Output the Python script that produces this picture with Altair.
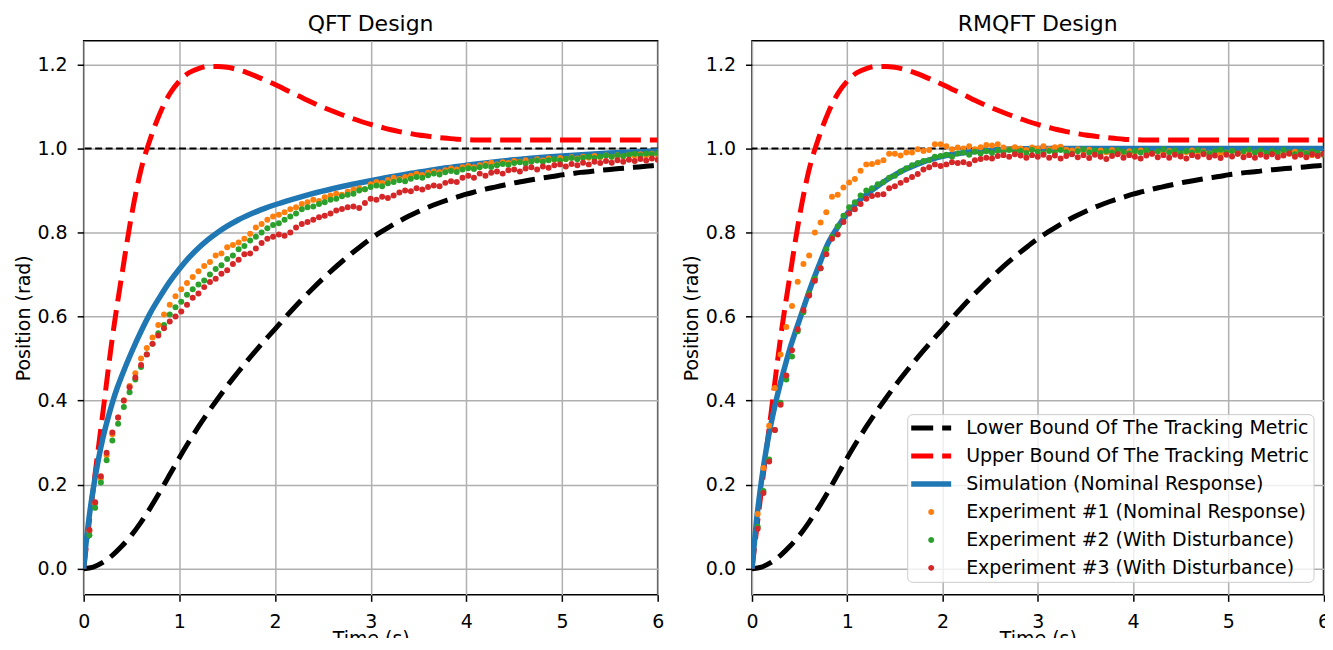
import altair as alt
import pandas as pd

# ---------------- data ----------------
series_names = [
    "Lower Bound Of The Tracking Metric",
    "Upper Bound Of The Tracking Metric",
    "Simulation (Nominal Response)",
    "Experiment #1 (Nominal Response)",
    "Experiment #2 (With Disturbance)",
    "Experiment #3 (With Disturbance)",
]
series_colors = ["#000000", "#ff0000", "#1f77b4", "#ff7f0e", "#2ca02c", "#d62728"]

x_ticks = [0, 1, 2, 3, 4, 5, 6]
y_ticks = [0.0, 0.2, 0.4, 0.6, 0.8, 1.0, 1.2]
setpoint = [1.0]

t_bound = [0.0, 0.1, 0.2, 0.3, 0.4, 0.5, 0.6, 0.7, 0.8, 0.9,
           1.0, 1.1, 1.2, 1.3, 1.4, 1.5, 1.6, 1.7, 1.8, 1.9,
           2.0, 2.1, 2.2, 2.3, 2.4, 2.5, 2.6, 2.7, 2.8, 2.9,
           3.0, 3.1, 3.2, 3.3, 3.4, 3.5, 3.6, 3.7, 3.8, 3.9,
           4.0, 4.1, 4.2, 4.3, 4.4, 4.5, 4.6, 4.7, 4.8, 4.9,
           5.0, 5.1, 5.2, 5.3, 5.4, 5.5, 5.6, 5.7, 5.8, 5.9, 6.0]
lower_bound = [0.000, 0.004, 0.015, 0.032, 0.054, 0.080, 0.111, 0.146, 0.184, 0.224,
               0.264, 0.302, 0.338, 0.372, 0.404, 0.435, 0.464, 0.492, 0.519, 0.545,
               0.570, 0.596, 0.621, 0.645, 0.668, 0.690, 0.711, 0.731, 0.750, 0.768,
               0.785, 0.800, 0.814, 0.827, 0.839, 0.850, 0.860, 0.869, 0.877, 0.884,
               0.891, 0.897, 0.903, 0.908, 0.913, 0.918, 0.922, 0.926, 0.930, 0.933,
               0.937, 0.940, 0.943, 0.945, 0.948, 0.950, 0.952, 0.954, 0.956, 0.958, 0.960]
upper_bound = [0.000, 0.190, 0.370, 0.550, 0.700, 0.840, 0.950, 1.025, 1.085, 1.130,
               1.160, 1.180, 1.190, 1.195, 1.195, 1.193, 1.188, 1.181, 1.172, 1.162,
               1.152, 1.141, 1.130, 1.119, 1.108, 1.098, 1.089, 1.080, 1.072, 1.064,
               1.057, 1.051, 1.045, 1.040, 1.036, 1.032, 1.029, 1.026, 1.024, 1.022,
               1.021, 1.020, 1.020, 1.020, 1.020, 1.020, 1.020, 1.020, 1.020, 1.020,
               1.020, 1.020, 1.020, 1.020, 1.020, 1.020, 1.020, 1.020, 1.020, 1.020, 1.020]

t_sim_qft = [0.0, 0.02, 0.05, 0.1, 0.15, 0.2, 0.25, 0.3, 0.35, 0.4, 0.5, 0.6, 0.7, 0.8, 0.9,
             1.0, 1.1, 1.2, 1.3, 1.4, 1.5, 1.6, 1.7, 1.8, 1.9, 2.0, 2.2, 2.4, 2.6, 2.8,
             3.0, 3.2, 3.4, 3.6, 3.8, 4.0, 4.5, 5.0, 5.5, 6.0]
sim_qft = [0.0, 0.05, 0.11, 0.19, 0.255, 0.31, 0.355, 0.395, 0.43, 0.46, 0.515, 0.565, 0.61, 0.648, 0.683,
           0.713, 0.74, 0.763, 0.783, 0.80, 0.815, 0.828, 0.839, 0.849, 0.858, 0.866, 0.88, 0.893, 0.904, 0.914,
           0.923, 0.932, 0.94, 0.947, 0.954, 0.96, 0.973, 0.982, 0.989, 0.994]

t_sim_rm = [0.0, 0.02, 0.05, 0.1, 0.15, 0.2, 0.25, 0.3, 0.35, 0.4, 0.45, 0.5, 0.6, 0.7, 0.8, 0.9,
            1.0, 1.1, 1.2, 1.3, 1.4, 1.5, 1.6, 1.7, 1.8, 1.9, 2.0, 2.2, 2.4, 2.6, 2.8,
            3.0, 3.5, 4.0, 4.5, 5.0, 5.5, 6.0]
sim_rm = [0.0, 0.05, 0.12, 0.21, 0.285, 0.345, 0.397, 0.443, 0.485, 0.525, 0.56, 0.593, 0.66, 0.72, 0.775, 0.813,
          0.845, 0.87, 0.89, 0.907, 0.923, 0.937, 0.949, 0.959, 0.968, 0.975, 0.981, 0.989, 0.994, 0.997, 0.999,
          1.0, 1.0, 1.0, 1.0, 1.0, 1.0, 1.0]

t_exp = [0.06, 0.12, 0.18, 0.24, 0.30, 0.36, 0.42, 0.48, 0.54, 0.60,
         0.66, 0.72, 0.78, 0.84, 0.90, 0.96, 1.02, 1.08, 1.14, 1.20,
         1.26, 1.32, 1.38, 1.44, 1.50, 1.56, 1.62, 1.68, 1.74, 1.80,
         1.86, 1.92, 1.98, 2.04, 2.10, 2.16, 2.22, 2.28, 2.34, 2.40,
         2.46, 2.52, 2.58, 2.64, 2.70, 2.76, 2.82, 2.88, 2.94, 3.00,
         3.06, 3.12, 3.18, 3.24, 3.30, 3.36, 3.42, 3.48, 3.54, 3.60,
         3.66, 3.72, 3.78, 3.84, 3.90, 3.96, 4.02, 4.08, 4.14, 4.20,
         4.26, 4.32, 4.38, 4.44, 4.50, 4.56, 4.62, 4.68, 4.74, 4.80,
         4.86, 4.92, 4.98, 5.04, 5.10, 5.16, 5.22, 5.28, 5.34, 5.40,
         5.46, 5.52, 5.58, 5.64, 5.70, 5.76, 5.82, 5.88, 5.94, 6.00]

qft_exp1 = [0.090, 0.155, 0.215, 0.270, 0.320, 0.360, 0.400, 0.435, 0.465, 0.500,
            0.525, 0.550, 0.580, 0.605, 0.628, 0.648, 0.665, 0.680, 0.694, 0.708,
            0.720, 0.730, 0.745, 0.750, 0.765, 0.770, 0.776, 0.785, 0.797, 0.812,
            0.820, 0.830, 0.838, 0.842, 0.848, 0.855, 0.860, 0.868, 0.872, 0.878,
            0.875, 0.884, 0.888, 0.892, 0.890, 0.897, 0.902, 0.905, 0.903, 0.915,
            0.920, 0.918, 0.925, 0.930, 0.927, 0.932, 0.935, 0.940, 0.937, 0.942,
            0.945, 0.943, 0.948, 0.952, 0.950, 0.955, 0.958, 0.955, 0.960, 0.963,
            0.966, 0.962, 0.967, 0.965, 0.970, 0.968, 0.972, 0.969, 0.974, 0.971,
            0.976, 0.973, 0.977, 0.975, 0.979, 0.976, 0.980, 0.978, 0.982, 0.979,
            0.983, 0.980, 0.984, 0.981, 0.985, 0.982, 0.986, 0.983, 0.987, 0.985]
qft_exp2 = [0.080, 0.145, 0.205, 0.258, 0.305, 0.345, 0.385, 0.420, 0.450, 0.480,
            0.510, 0.535, 0.560, 0.580, 0.605, 0.622, 0.635, 0.652, 0.665, 0.676,
            0.686, 0.700, 0.713, 0.722, 0.737, 0.745, 0.760, 0.768, 0.781, 0.790,
            0.800, 0.810, 0.818, 0.822, 0.830, 0.838, 0.845, 0.855, 0.860, 0.862,
            0.868, 0.872, 0.878, 0.880, 0.886, 0.890, 0.892, 0.900, 0.903, 0.908,
            0.912, 0.910, 0.917, 0.920, 0.924, 0.922, 0.928, 0.932, 0.930, 0.936,
            0.940, 0.938, 0.943, 0.946, 0.944, 0.950, 0.953, 0.951, 0.955, 0.958,
            0.956, 0.960, 0.963, 0.961, 0.965, 0.967, 0.964, 0.969, 0.971, 0.968,
            0.972, 0.974, 0.971, 0.975, 0.977, 0.974, 0.978, 0.980, 0.977, 0.981,
            0.983, 0.980, 0.984, 0.982, 0.985, 0.987, 0.984, 0.988, 0.986, 0.989]
qft_exp3 = [0.092, 0.158, 0.220, 0.276, 0.324, 0.360, 0.400, 0.432, 0.455, 0.485,
            0.510, 0.535, 0.555, 0.572, 0.588, 0.600, 0.612, 0.628, 0.645, 0.655,
            0.670, 0.682, 0.690, 0.702, 0.710, 0.725, 0.735, 0.748, 0.750, 0.762,
            0.775, 0.785, 0.790, 0.795, 0.792, 0.800, 0.812, 0.820, 0.825, 0.830,
            0.836, 0.840, 0.845, 0.852, 0.856, 0.860, 0.862, 0.858, 0.870, 0.880,
            0.878, 0.885, 0.882, 0.888, 0.895, 0.900, 0.898, 0.905, 0.902, 0.908,
            0.912, 0.910, 0.918, 0.922, 0.920, 0.930, 0.935, 0.930, 0.940, 0.935,
            0.942, 0.945, 0.940, 0.948, 0.950, 0.945, 0.952, 0.955, 0.950, 0.957,
            0.954, 0.960, 0.962, 0.957, 0.963, 0.960, 0.966, 0.962, 0.968, 0.965,
            0.970, 0.966, 0.972, 0.968, 0.973, 0.970, 0.975, 0.971, 0.976, 0.973]

rm_exp1 = [0.130, 0.240, 0.340, 0.430, 0.510, 0.575, 0.625, 0.683, 0.725, 0.745,
           0.800, 0.824, 0.848, 0.885, 0.890, 0.907, 0.919, 0.927, 0.947, 0.962,
           0.963, 0.967, 0.972, 0.987, 0.987, 0.983, 0.990, 0.990, 0.998, 0.994,
           0.996, 1.010, 1.010, 1.005, 0.998, 1.002, 1.000, 1.005, 0.998, 1.003,
           1.008, 1.007, 1.010, 1.002, 0.998, 1.003, 1.000, 0.996, 1.002, 1.000,
           1.005, 0.998, 1.003, 1.004, 0.997, 0.995, 0.998, 0.993, 0.997, 0.992,
           0.995, 0.990, 0.996, 0.992, 0.988, 0.993, 0.990, 0.995, 0.990, 0.987,
           0.992, 0.988, 0.994, 0.990, 0.986, 0.991, 0.995, 0.989, 0.993, 0.988,
           0.992, 0.987, 0.990, 0.994, 0.988, 0.991, 0.986, 0.990, 0.993, 0.988,
           0.991, 0.985, 0.990, 0.987, 0.992, 0.986, 0.989, 0.984, 0.988, 0.985]
rm_exp2 = [0.100, 0.185, 0.260, 0.330, 0.395, 0.450, 0.505, 0.565, 0.610, 0.655,
           0.690, 0.715, 0.760, 0.790, 0.815, 0.840, 0.860, 0.872, 0.888, 0.900,
           0.905, 0.915, 0.920, 0.930, 0.935, 0.945, 0.953, 0.960, 0.965, 0.970,
           0.972, 0.980, 0.982, 0.985, 0.980, 0.988, 0.990, 0.985, 0.992, 0.988,
           0.993, 0.989, 0.995, 0.990, 0.996, 0.991, 0.994, 0.989, 0.996, 0.992,
           0.988, 0.994, 0.990, 0.996, 0.991, 0.987, 0.993, 0.998, 0.990, 0.995,
           0.989, 0.994, 0.990, 0.996, 0.992, 0.988, 0.994, 0.990, 0.995, 0.989,
           0.993, 0.998, 0.991, 0.995, 0.989, 0.994, 0.990, 0.996, 0.991, 0.987,
           0.993, 0.997, 0.990, 0.994, 0.988, 0.993, 0.997, 0.990, 0.995, 0.989,
           0.994, 0.990, 0.996, 0.991, 0.986, 0.992, 0.988, 0.993, 0.989, 0.985]
rm_exp3 = [0.095, 0.180, 0.255, 0.330, 0.390, 0.460, 0.520, 0.570, 0.615, 0.650,
           0.685, 0.715, 0.748, 0.785, 0.795, 0.825, 0.845, 0.855, 0.868, 0.880,
           0.887, 0.890, 0.891, 0.905, 0.910, 0.918, 0.925, 0.932, 0.939, 0.950,
           0.955, 0.962, 0.958, 0.962, 0.967, 0.965, 0.967, 0.963, 0.972, 0.975,
           0.978, 0.976, 0.982, 0.984, 0.980, 0.986, 0.983, 0.978, 0.984, 0.980,
           0.985, 0.978, 0.983, 0.976, 0.982, 0.986, 0.979, 0.984, 0.977, 0.985,
           0.980, 0.975, 0.982, 0.986, 0.978, 0.984, 0.980, 0.976, 0.983, 0.987,
           0.979, 0.984, 0.978, 0.985, 0.981, 0.976, 0.984, 0.980, 0.986, 0.979,
           0.983, 0.977, 0.985, 0.981, 0.987, 0.979, 0.984, 0.978, 0.985, 0.980,
           0.986, 0.979, 0.983, 0.988, 0.980, 0.985, 0.979, 0.986, 0.982, 0.987]

# legend handle glyphs (SVG paths, symbol radius units): dashed line, solid line, dot
dash_path = "M-1,-0.25H1.2V0.25H-1Z M2.1,-0.25H3V0.25H2.1Z"
solid_path = "M-1,-0.27H3V0.27H-1Z"
dot_path = "M0.7,0A0.3,0.3,0,1,0,1.3,0A0.3,0.3,0,1,0,0.7,0Z"
series_shapes = [dash_path, dash_path, solid_path, dot_path, dot_path, dot_path]

FONT = "DejaVu Sans"

# ---------------- chart ----------------
xscale = alt.Scale(domain=[0, 6], nice=False, zero=False)
yscale = alt.Scale(domain=[-0.062, 1.256], nice=False, zero=False)

common_axis = dict(
    labelFlush=False, labelOverlap=False, tickSize=6.5, tickWidth=1.5, tickColor="black",
    grid=True, gridColor="#b0b0b0", gridWidth=1.5, domain=False,
    labelFont=FONT, labelFontSize=19, labelColor="black",
    titleFont=FONT, titleFontSize=19, titleFontWeight="normal", titleColor="black",
)
xaxis = alt.Axis(values=x_ticks, format="d", title="Time (s)", labelPadding=11, titlePadding=-2, **common_axis)
yaxis = alt.Axis(values=y_ticks, format=".1f", title="Position (rad)", labelPadding=10, titlePadding=4,
                 **common_axis)


def X():
    return alt.X("t:Q", scale=xscale, axis=xaxis)


def Y():
    return alt.Y("v:Q", scale=yscale, axis=yaxis)


def panel(title, width, t_sim, sim, e1, e2, e3, with_legend):
    ref = alt.Chart(pd.DataFrame({"v": setpoint})).mark_rule(
        color="black", strokeWidth=2, strokeDash=[7, 3.5]
    ).encode(y=Y())
    lower = alt.Chart(pd.DataFrame({"t": t_bound, "v": lower_bound})).mark_line(
        color=series_colors[0], strokeWidth=5, strokeDash=[21, 9], interpolate="monotone", clip=True
    ).encode(x=X(), y=Y())
    upper = alt.Chart(pd.DataFrame({"t": t_bound, "v": upper_bound})).mark_line(
        color=series_colors[1], strokeWidth=5, strokeDash=[21, 9], interpolate="monotone", clip=True
    ).encode(x=X(), y=Y())
    simu = alt.Chart(pd.DataFrame({"t": t_sim, "v": sim})).mark_line(
        color=series_colors[2], strokeWidth=5.5, interpolate="monotone", clip=True
    ).encode(x=X(), y=Y())
    layers = [ref, lower, upper, simu]
    for vals, col in zip([e1, e2, e3], series_colors[3:]):
        layers.append(
            alt.Chart(pd.DataFrame({"t": t_exp, "v": vals})).mark_circle(
                color=col, size=36, opacity=1, clip=True
            ).encode(x=X(), y=Y())
        )
    if with_legend:
        leg = alt.Legend(
            title=None, orient="none", legendX=155.5, legendY=374, direction="vertical",
            labelFont=FONT, labelFontSize=19, labelColor="black", labelLimit=800, labelOffset=35,
            symbolSize=400, symbolStrokeWidth=0, symbolOpacity=1, padding=4, rowPadding=8,
            fillColor="rgba(255,255,255,0.8)", strokeColor="#cccccc", cornerRadius=5,
        )
        legend_layer = alt.Chart(pd.DataFrame({"series": series_names})).mark_point(
            filled=True, opacity=0, size=400
        ).encode(
            color=alt.Color("series:N", sort=series_names,
                            scale=alt.Scale(domain=series_names, range=series_colors), legend=leg),
            shape=alt.Shape("series:N", sort=series_names,
                            scale=alt.Scale(domain=series_names, range=series_shapes), legend=leg),
        )
        layers.append(legend_layer)
    return alt.layer(*layers).properties(
        width=width, height=555,
        title=alt.TitleParams(title, font=FONT, fontSize=22, fontWeight="normal", color="black", offset=5),
    )


left = panel("QFT Design", 575, t_sim_qft, sim_qft, qft_exp1, qft_exp2, qft_exp3, False)
right = panel("RMQFT Design", 572.5, t_sim_rm, sim_rm, rm_exp1, rm_exp2, rm_exp3, True)

chart = alt.hconcat(left, right, spacing=94.5, bounds="flush").resolve_scale(
    color="independent", shape="independent"
).resolve_legend(
    color="independent", shape="independent"
).properties(
    padding={"left": 4.8, "top": 3.3, "right": -5.5, "bottom": -12}
).configure(font=FONT).configure_view(stroke="black", strokeWidth=1.5)

chart.save("out.html", embed_options={"renderer": "svg", "actions": False})
